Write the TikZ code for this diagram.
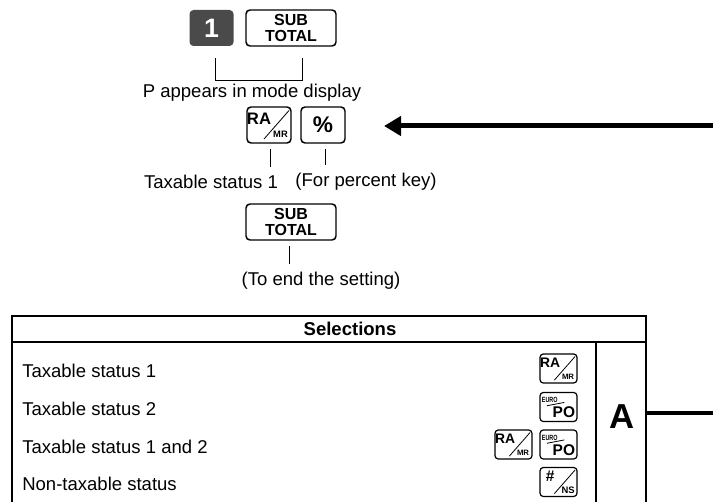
\documentclass[tikz,border=0pt]{standalone}
\usepackage{fontspec}
\setmainfont{Liberation Sans}
\usetikzlibrary{arrows.meta,calc}

\definecolor{keydark}{RGB}{74,74,74}

% glyphs of a slashed key (RA/MR, #/NS), in px about the key centre
\newcommand{\slashkey}[4]{%
  \begin{scope}[shift={(#1.center)}, scale=#2, transform shape]
    \node[font=\bfseries\fontsize{12.5}{13}\selectfont, inner sep=0] at (-10,-6.5) {#3};
    \draw[line width=0.6pt] (-5,14) -- (20,-14.5);
    \node[font=\bfseries\fontsize{7}{8}\selectfont, inner sep=0] at (11.5,9.5) {#4};
  \end{scope}}
% glyphs of the EURO/PO key
\newcommand{\eurokey}[2]{%
  \begin{scope}[shift={(#1.center)}, scale=#2, transform shape]
    \node[font=\bfseries\fontsize{6.8}{7}\selectfont, inner sep=0, xscale=0.72] at (-10.5,-8.5) {EURO};
    \draw[line width=0.6pt] (-14,-1.5) -- (7,-5.5);
    \node[font=\bfseries\fontsize{14}{15}\selectfont, inner sep=0] at (6.5,6.5) {PO};
  \end{scope}}

\begin{document}
\begin{tikzpicture}[
  x=0.75pt, y=-0.75pt,
  txt/.style={font=\fontsize{13.9}{16}\selectfont, inner sep=0},
  keybox/.style={draw, line width=1.1pt, rounded corners=3pt, inner sep=0, outer sep=0,
                 minimum width=33pt, minimum height=27pt},
  smallkey/.style={keybox, line width=0.9pt, rounded corners=2.5pt, minimum width=27.75pt, minimum height=21.75pt},
  subkey/.style={keybox, minimum width=67.5pt, align=center, font=\bfseries\fontsize{12}{11.5}\selectfont},
  lnk/.style={line width=0.75pt},
  arr/.style={-{Triangle[length=12.75pt, width=14.25pt]}, line width=3.75pt},
  rule/.style={line width=1.5pt}
]
  \useasboundingbox (0,0) rectangle (713,502);
  % keys of the upper part
  \node[keybox, draw=none, fill=keydark, text=white, font=\bfseries\fontsize{20}{20}\selectfont] (one) at (211.5,28) {1};
  \node[subkey] (sub1) at (291,28) {SUB\\TOTAL};
  \node[keybox] (ramr) at (269,125) {};
  \slashkey{ramr}{1}{RA}{MR}
  \node[keybox, font=\bfseries\fontsize{17}{18}\selectfont] (pct) at (323,125) {\%};
  \node[subkey] (sub2) at (291,222) {SUB\\TOTAL};
  % texts
  \node[txt] (pmode) at (252,93) {P appears in mode display};
  \node[txt] (tax1) at (211,182) {Taxable status 1};
  \node[txt] (forpct) at (366,182) {(For percent key)};
  \node[txt] (toend) at (321,281) {(To end the setting)};
  % connectors
  \coordinate (bl) at ($(one.south)+(3.5,12)$);
  \coordinate (br) at ($(sub1.south)+(11,12)$);
  \draw[lnk] (bl) -- ++(0,23) -| (br);
  \draw[lnk] ($(ramr.south)+(1,6)$) -- ($(tax1.north)+(59,-8)$);
  \draw[lnk] ($(pct.south)+(2,6)$) -- ($(forpct.north)+(-41,-8)$);
  \draw[lnk] ($(sub2.south)+(-2,6)$) -- ($(toend.north)+(-32,-8)$);
  \coordinate (arrin) at (713,126);
  \coordinate (arrtip) at ($(pct.east)+(39,1)$);
  \draw[arr] (arrin) -- (arrtip);
  % table
  \draw[rule] (12,502) -- (12,316) -- (646,316) -- (646,502);
  \draw[line width=2pt] (12,342) -- (646,342);
  \draw[rule] (596,342) -- (596,502);
  \node[txt, font=\bfseries\fontsize{13.9}{16}\selectfont] (sel) at (350,329) {Selections};
  \node[txt, anchor=west] (row1) at (22,371) {Taxable status 1};
  \node[txt, anchor=west] (row2) at (22,409) {Taxable status 2};
  \node[txt, anchor=west] (row3) at (22,447) {Taxable status 1 and 2};
  \node[txt, anchor=west] (row4) at (22,484) {Non-taxable status};
  \node[smallkey] (k1) at (558.5,368.5) {};
  \slashkey{k1}{0.83}{RA}{MR}
  \node[smallkey] (k2) at (558.5,407) {};
  \eurokey{k2}{0.83}
  \node[smallkey] (k3a) at (513.5,444.5) {};
  \slashkey{k3a}{0.83}{RA}{MR}
  \node[smallkey] (k3b) at (558.5,444.5) {};
  \eurokey{k3b}{0.83}
  \node[smallkey] (k4) at (558.5,482) {};
  \slashkey{k4}{0.83}{\fontsize{14}{14}\selectfont\#}{\fontsize{8.5}{9}\selectfont NS}
  \node[txt, font=\bfseries\fontsize{26}{28}\selectfont] (seta) at (622,417) {A};
  \coordinate (aout) at (713,413);
  \draw[line width=3pt] (646,413) -- (aout);
\end{tikzpicture}
\end{document}
